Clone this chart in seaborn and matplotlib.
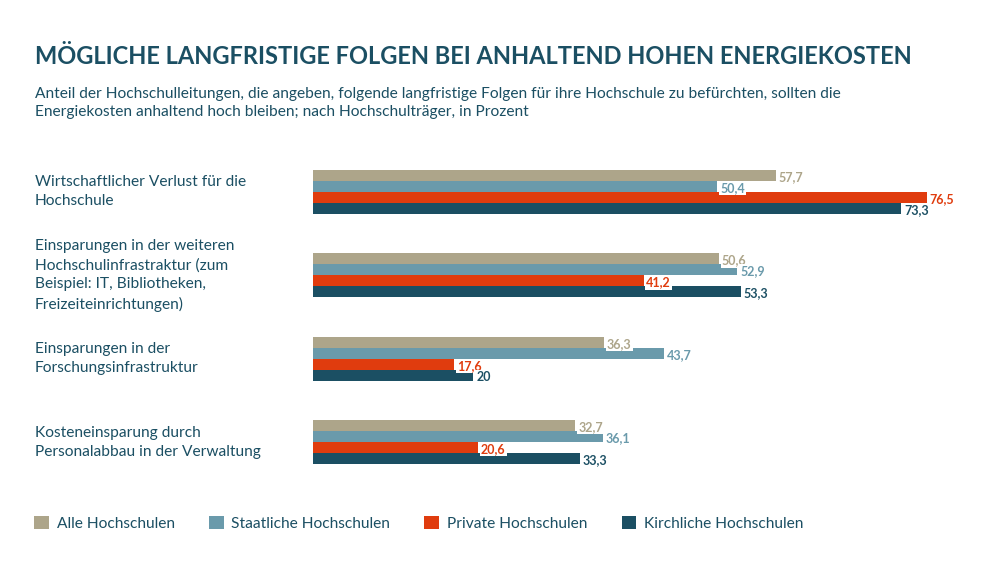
import matplotlib
matplotlib.use("Agg")
import matplotlib.pyplot as plt
import matplotlib.transforms as mtransforms
import seaborn as sns
import pandas as pd
from matplotlib.patches import Patch

categories = [
    "Wirtschaftlicher Verlust für die\nHochschule",
    "Einsparungen in der weiteren\nHochschulinfrastraktur (zum\nBeispiel: IT, Bibliotheken,\nFreizeiteinrichtungen)",
    "Einsparungen in der\nForschungsinfrastruktur",
    "Kosteneinsparung durch\nPersonalabbau in der Verwaltung",
]
series_names = ["Alle Hochschulen", "Staatliche Hochschulen", "Private Hochschulen", "Kirchliche Hochschulen"]
alle = [57.7, 50.6, 36.3, 32.7]
staatliche = [50.4, 52.9, 43.7, 36.1]
private = [76.5, 41.2, 17.6, 20.6]
kirchliche = [73.3, 53.3, 20, 33.3]
colors = ["#ADA58A", "#6A9AAB", "#E03C0E", "#1B4F63"]
label_colors = ["#ADA58A", "#6A9AAB", "#E03C0E", "#1B4F63"]
title = "MÖGLICHE LANGFRISTIGE FOLGEN BEI ANHALTEND HOHEN ENERGIEKOSTEN"
subtitle = ("Anteil der Hochschulleitungen, die angeben, folgende langfristige Folgen für ihre Hochschule zu befürchten, sollten die\n"
            "Energiekosten anhaltend hoch bleiben; nach Hochschulträger, in Prozent")

sns.set_theme(style="white")
plt.rcParams["font.family"] = ["Lato", "DejaVu Sans"]
dark = "#1B4F63"

rows = []
for s, vals in zip(series_names, [alle, staatliche, private, kirchliche]):
    for c, v in zip(categories, vals):
        rows.append({"cat": c, "series": s, "value": v})
df = pd.DataFrame(rows)

fig = plt.figure(figsize=(10, 5.63), dpi=100)
ax = fig.add_axes([0.313, 0.126, 0.682, 0.622])
sns.barplot(data=df, y="cat", x="value", hue="series", order=categories,
            hue_order=series_names, palette=colors, orient="h", width=0.53,
            saturation=1, ax=ax, legend=False, edgecolor="none", linewidth=0)
ax.set_xlim(0, 85)
ax.set_ylim(3.6, -0.6)
ax.set_xlabel("")
ax.set_ylabel("")
ax.set_xticks([])
ax.set_yticks([])
for sp in ax.spines.values():
    sp.set_visible(False)

# value labels
for i, cont in enumerate(ax.containers):
    for bar, v in zip(cont, [alle, staatliche, private, kirchliche][i]):
        txt = f"{v:.1f}".replace(".", ",") if v != int(v) else f"{int(v)}"
        y = bar.get_y() + bar.get_height() / 2
        ax.text(bar.get_width() + 0.35, y + 0.02, txt, ha="left", va="center",
                fontsize=9, fontweight="bold", color=label_colors[i],
                bbox=dict(facecolor="white", edgecolor="none", pad=0.8))

# category labels
trans = mtransforms.blended_transform_factory(fig.transFigure, ax.transData)
for j, c in enumerate(categories):
    ax.text(0.035, j, c, transform=trans, ha="left", va="center", fontsize=11.2,
            color=dark, linespacing=1.45)

fig.text(0.035, 0.900, title, ha="left", va="center", fontsize=17, fontweight="bold", color=dark)
fig.text(0.035, 0.817, subtitle, ha="left", va="center", fontsize=11.2, color=dark, linespacing=1.35)

handles = [Patch(facecolor=c, edgecolor="none") for c in colors]
leg = fig.legend(handles, series_names, loc="center left", bbox_to_anchor=(0.02, 0.07),
                 ncol=4, frameon=False, fontsize=11.2, handlelength=0.95, handleheight=0.95,
                 handletextpad=0.5, columnspacing=2.2)
for t in leg.get_texts():
    t.set_color(dark)

fig.savefig("out.png", dpi=100)
